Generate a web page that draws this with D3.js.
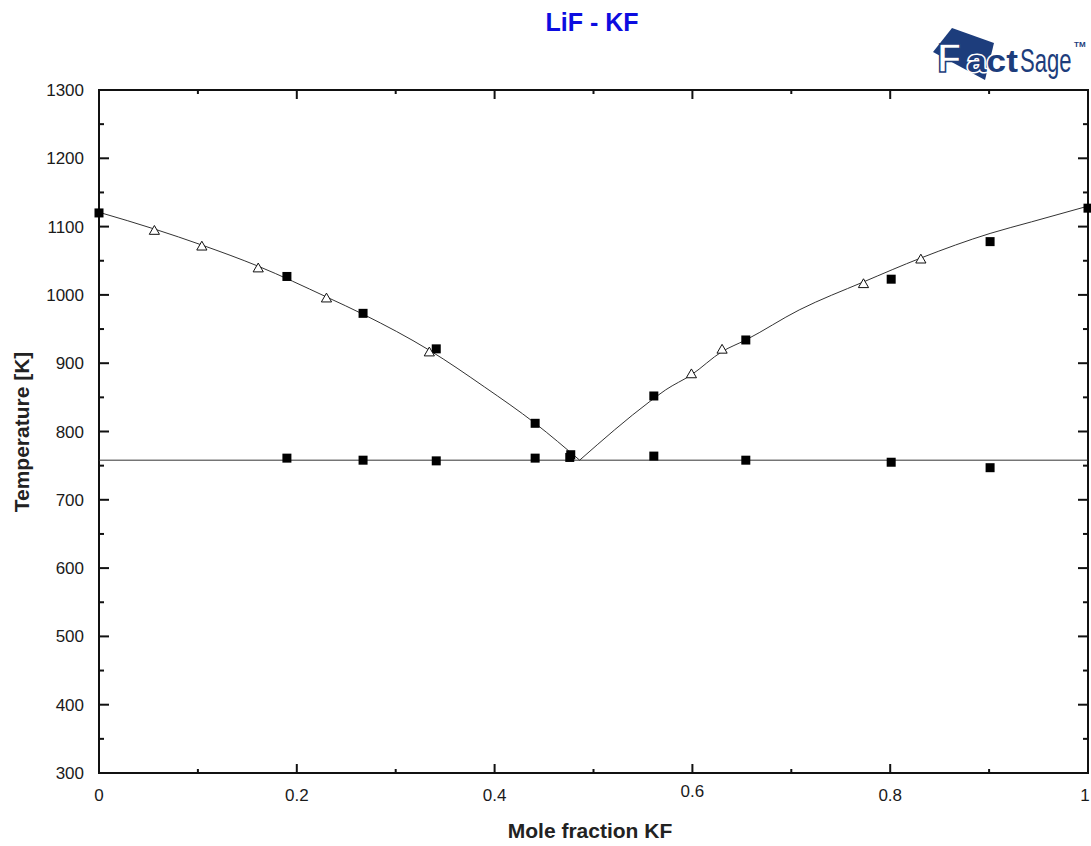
<!DOCTYPE html>
<html>
<head>
<meta charset="utf-8">
<script src="https://cdn.jsdelivr.net/npm/d3@7"></script>
<style>
  html, body { margin: 0; padding: 0; background: #fff; }
  svg { display: block; font-family: Arial, "Liberation Sans", sans-serif; }
</style>
</head>
<body>
<svg id="chart" width="1091" height="846"></svg>
<script>
// LiF - KF phase diagram: calculated liquidus + eutectic line, with measured points

const xTickValues = [0, 0.2, 0.4, 0.6, 0.8, 1];
const xTickLabels = ["0", "0.2", "0.4", "0.6", "0.8", "1"];
const yTickValues = [300, 400, 500, 600, 700, 800, 900, 1000, 1100, 1200, 1300];

// Calculated liquidus, LiF-rich branch [x(KF), T/K]
const liquidusLiF = [
  [0.000, 1121], [0.057, 1096], [0.104, 1073], [0.161, 1042], [0.230, 997],
  [0.268, 971], [0.334, 919], [0.390, 865], [0.441, 812], [0.486, 758]
];
// Calculated liquidus, KF-rich branch
const liquidusKF = [
  [0.486, 758], [0.557, 844], [0.573, 861], [0.599, 883], [0.630, 917],
  [0.654, 934], [0.708, 978], [0.773, 1019], [0.831, 1054], [0.901, 1090],
  [0.943, 1107], [1.000, 1130]
];
// Eutectic temperature
const eutecticT = 758;

// Experimental data, set 1 (filled squares)
const squarePoints = [
  [0.000, 1120], [0.190, 1027], [0.267, 973], [0.341, 921], [0.441, 812],
  [0.477, 766], [0.476, 762], [0.561, 852], [0.654, 934], [0.801, 1023],
  [0.901, 1078], [1.000, 1127],
  [0.190, 761], [0.267, 758], [0.341, 757], [0.441, 761], [0.561, 764],
  [0.654, 758], [0.801, 755], [0.901, 747]
];
// Experimental data, set 2 (open triangles)
const trianglePoints = [
  [0.056, 1093], [0.104, 1070], [0.161, 1038], [0.230, 994], [0.334, 915],
  [0.599, 883], [0.630, 919], [0.773, 1015], [0.831, 1051]
];

const svg = d3.select("#chart");
const plot = { left: 99, right: 1088, top: 90, bottom: 773 };

const x = d3.scaleLinear().domain([0, 1]).range([plot.left, plot.right]);
const y = d3.scaleLinear().domain([300, 1300]).range([plot.bottom, plot.top]);

// Title
svg.append("text")
  .attr("x", 592).attr("y", 31)
  .attr("text-anchor", "middle")
  .attr("font-size", 25).attr("font-weight", "bold")
  .attr("fill", "#0c0ce0")
  .text("LiF - KF");

// FactSage logo
const brand = "#1d3d7c";
const logo = svg.append("g");
logo.append("polygon")
  .attr("points", "952,28 994,43 985,80 933,52")
  .attr("fill", brand);
logo.append("text")
  .attr("x", 937).attr("y", 72)
  .attr("font-size", 40).attr("font-weight", "bold")
  .attr("fill", "#ffffff").attr("stroke", brand).attr("stroke-width", 1.5)
  .text("F");
logo.append("text")
  .attr("transform", "translate(967,72) scale(1.1,1)")
  .attr("font-size", 32).attr("font-weight", "bold")
  .attr("fill", brand).attr("stroke", "#ffffff").attr("stroke-width", 3)
  .attr("paint-order", "stroke")
  .text("act");
logo.append("text")
  .attr("transform", "translate(1020,72) scale(0.65,1)")
  .attr("font-size", 34)
  .attr("fill", brand)
  .text("Sage");
logo.append("text")
  .attr("x", 1074).attr("y", 47)
  .attr("font-size", 8).attr("font-weight", "bold")
  .attr("fill", brand)
  .text("TM");

// Frame
svg.append("rect")
  .attr("x", plot.left).attr("y", plot.top)
  .attr("width", plot.right - plot.left).attr("height", plot.bottom - plot.top)
  .attr("fill", "none").attr("stroke", "#111").attr("stroke-width", 2);

// Inward ticks on all four sides: majors and minors
const xMinor = d3.range(0.1, 1, 0.2);
const yMinor = d3.range(350, 1300, 100);
const ticks = svg.append("g").attr("stroke", "#111").attr("stroke-width", 2);
function addTicks(vals, len, horizontal) {
  vals.forEach(v => {
    if (horizontal) {
      ticks.append("line").attr("x1", x(v)).attr("x2", x(v))
        .attr("y1", plot.bottom).attr("y2", plot.bottom - len);
      ticks.append("line").attr("x1", x(v)).attr("x2", x(v))
        .attr("y1", plot.top).attr("y2", plot.top + len);
    } else {
      ticks.append("line").attr("y1", y(v)).attr("y2", y(v))
        .attr("x1", plot.left).attr("x2", plot.left + len);
      ticks.append("line").attr("y1", y(v)).attr("y2", y(v))
        .attr("x1", plot.right).attr("x2", plot.right - len);
    }
  });
}
addTicks(xTickValues.slice(1, -1), 9, true);
addTicks(xMinor, 4, true);
addTicks(yTickValues.slice(1, -1), 10, false);
addTicks(yMinor, 5, false);

// Tick labels
svg.append("g").selectAll("text").data(yTickValues).join("text")
  .attr("x", 84).attr("y", d => y(d) + 6)
  .attr("text-anchor", "end").attr("font-size", 17).attr("fill", "#1a1a1a")
  .text(d => d);
svg.append("g").selectAll("text").data(xTickValues).join("text")
  .attr("x", d => d === 1 ? x(d) - 3 : x(d))
  .attr("y", d => d === 0.6 ? 797 : 801)
  .attr("text-anchor", "middle").attr("font-size", 17).attr("fill", "#1a1a1a")
  .text((d, i) => xTickLabels[i]);

// Axis titles
svg.append("text")
  .attr("x", 590).attr("y", 838)
  .attr("text-anchor", "middle").attr("font-size", 21).attr("font-weight", "bold")
  .attr("fill", "#222")
  .text("Mole fraction KF");
svg.append("text")
  .attr("transform", "translate(29,432) rotate(-90)")
  .attr("text-anchor", "middle").attr("font-size", 21).attr("font-weight", "bold")
  .attr("fill", "#222")
  .text("Temperature [K]");

// Calculated lines
const line = d3.line().x(d => x(d[0])).y(d => y(d[1])).curve(d3.curveMonotoneX);
const lines = svg.append("g").attr("fill", "none").attr("stroke", "#333").attr("stroke-width", 1);
lines.append("path").attr("d", line(liquidusLiF));
lines.append("path").attr("d", line(liquidusKF));
lines.append("line")
  .attr("x1", x(0)).attr("x2", x(1))
  .attr("y1", y(eutecticT)).attr("y2", y(eutecticT));

// Measured points
const sq = 9;
svg.append("g").selectAll("rect").data(squarePoints).join("rect")
  .attr("x", d => x(d[0]) - sq / 2).attr("y", d => y(d[1]) - sq / 2)
  .attr("width", sq).attr("height", sq)
  .attr("fill", "#000");

const tri = d3.symbol().type(d3.symbolTriangle).size(45);
svg.append("g").selectAll("path").data(trianglePoints).join("path")
  .attr("transform", d => `translate(${x(d[0])},${y(d[1])})`)
  .attr("d", tri)
  .attr("fill", "#fff").attr("stroke", "#111").attr("stroke-width", 1);
</script>
</body>
</html>
